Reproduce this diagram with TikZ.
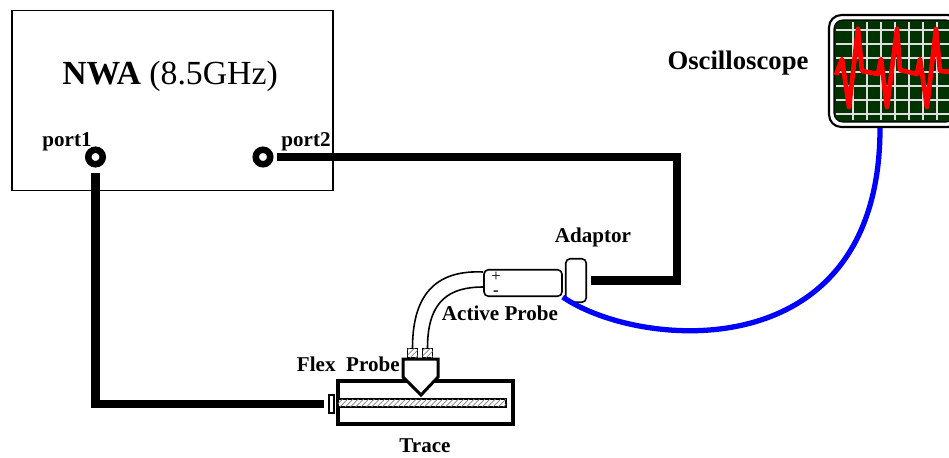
\documentclass[tikz,border=0pt]{standalone}
\usepackage{fontspec}
\setmainfont{Liberation Serif}
\usetikzlibrary{positioning, calc, patterns}

\definecolor{scopegreen}{RGB}{0,51,0}

\begin{document}
\begin{tikzpicture}[
    x=0.02cm, y=-0.02cm, % one unit per pixel, y pointing down
    labelstyle/.style={font=\fontsize{12}{14}\selectfont\bfseries, inner sep=0pt},
    portstyle/.style={circle, draw, line width=3.7pt, minimum size=0.29cm, inner sep=0pt},
    cable/.style={line width=4.8pt, line join=miter},
    wire/.style={line width=0.9pt},
    tipbox/.style={draw, line width=0.8pt, fill=white, postaction={pattern=north east lines, pattern color=gray}, minimum width=0.2cm, minimum height=0.18cm, inner sep=0pt},
    roundbox/.style={draw, line width=0.9pt, rounded corners=2.5pt, fill=white, inner sep=0pt},
    gridline/.style={gray!25, line width=0.7pt}
]
\useasboundingbox (0,0) rectangle (949,457);

% Network analyser with its two ports
\node (nwa) [draw, line width=1.1pt, minimum width=6.42cm, minimum height=3.6cm] at (172.5,100.5) {};
\node (nwa_label) [anchor=base, font=\fontsize{19.2}{21}\selectfont] at (170,84) {\textbf{NWA} (8.5GHz)};
\node (port1) [portstyle] at (95.5,157) {};
\node (port2) [portstyle] at (263,157) {};
\node (port1_label) [labelstyle, anchor=base] at (67,146) {port1};
\node (port2_label) [labelstyle, anchor=base] at (306,146) {port2};

% Trace board
\node (board) [draw, line width=2pt, minimum width=3.5cm, minimum height=0.86cm] at (425.5,402.5) {};
\node (strip) [draw, line width=1.4pt, fill=white, postaction={pattern=north east lines, pattern color=gray}, minimum width=3.36cm, minimum height=0.15cm, inner sep=0pt] at (422,403) {};
\node (sma) [draw, line width=1.3pt, fill=white, minimum width=0.11cm, minimum height=0.37cm, inner sep=0pt] at (331.5,404) {};
\node (trace_label) [labelstyle, anchor=base] at (425,452) {Trace};

% Flex probe sitting on the trace
\draw[line width=1.7pt, fill=white, line join=miter] (403,359) -- (438,359) -- (438,377) -- (421,395) -- (403,377) -- cycle;
\node (tip_a) [tipbox] at (412.5,353) {};
\node (tip_b) [tipbox] at (427.5,353) {};
\node (flex_label) [labelstyle, anchor=base east] at (400,371) {Flex\ \ Probe};

% Active probe and adaptor
\node (probe) [roundbox, minimum width=1.56cm, minimum height=0.53cm] at (523,283) {};
\node (plus) [font=\fontsize{9.5}{10}\selectfont, inner sep=0pt] at (496,276.5) {+};
\node (minus) [font=\fontsize{9.5}{10}\selectfont\bfseries, inner sep=0pt] at (496,293.5) {-};
\node (adaptor) [roundbox, minimum width=0.41cm, minimum height=0.87cm] at (576,280.5) {};
\node (adaptor_label) [labelstyle, anchor=base] at (593,242) {Adaptor};
\node (probe_label) [labelstyle, anchor=base] at (500,320) {Active Probe};

% probe leads
\draw[wire] ($(probe.west)+(0,-11)$) .. controls +(-43,-2) and +(0,-58) .. (tip_a.north);
\draw[wire] ($(probe.west)+(0,4)$) .. controls +(-33,0) and +(0,-48) .. (tip_b.north);

% Cables
\draw[cable, shorten <=0.11cm, shorten >=0.08cm] (port1.south) |- (sma.west);
\coordinate (cable_bend) at (677,157);
\draw[cable, shorten <=0.06cm, shorten >=0.08cm] (port2.east) -- (cable_bend) |- (adaptor.east);

% Oscilloscope
\node (scope) [draw, line width=1.2pt, fill=white, rounded corners=7pt, minimum width=2.62cm, minimum height=2.24cm] at (894.5,71) {};
\node (screen) [draw, line width=0.6pt, fill=scopegreen, rounded corners=5pt, minimum width=2.42cm, minimum height=2.04cm] at (894.5,71) {};
\foreach \gx in {853,867,...,951}
    \draw[gridline] (\gx,22) -- (\gx,120);
\foreach \gy in {30,44,...,114}
    \draw[gridline] (836,\gy) -- (953,\gy);
\draw[red, line width=2.7pt, line join=round] (836,75) -- (842,59) -- (849,107) -- (858,29) -- (862,71) -- (878,74) -- (881,59) -- (887,107) -- (897,29) -- (900,70) -- (917,74) -- (920,59) -- (927,107) -- (936,29) -- (940,71) -- (953,72);
\node (scope_label) [labelstyle, font=\fontsize{15.2}{17}\selectfont\bfseries, anchor=base] at (738,69.5) {Oscilloscope};

% probe cable to the scope
\coordinate (scope_in) at (880,128);
\draw[blue, line width=3pt] (probe.south east) .. controls (640,350) and (880,370) .. (scope_in);

\end{tikzpicture}
\end{document}
